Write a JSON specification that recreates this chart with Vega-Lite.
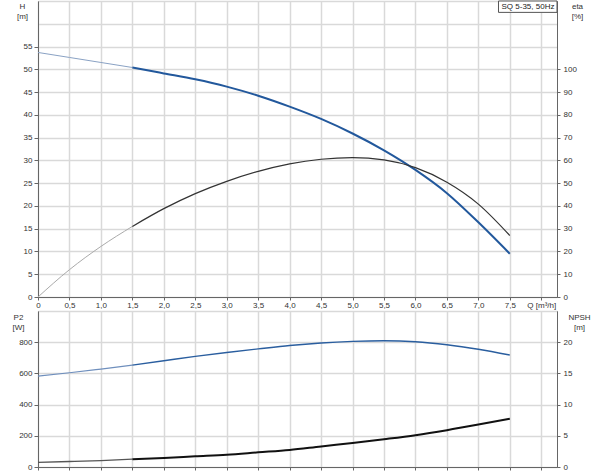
{
  "$schema": "https://vega.github.io/schema/vega-lite/v6.json",
  "padding": {"left": 11, "top": 0, "right": 0, "bottom": 0},
  "bounds": "flush",
  "spacing": 14,
  "config": {
    "font": "Liberation Sans",
    "view": {"stroke": "#777", "strokeWidth": 1},
    "axis": {
      "labelFont": "Liberation Sans", "labelFontSize": 8, "labelColor": "#333",
      "titleFont": "Liberation Sans", "titleFontSize": 8, "titleFontWeight": "normal", "titleColor": "#333",
      "domainColor": "#666", "tickColor": "#666", "tickSize": 4, "labelPadding": 2,
      "gridColor": "#d9d9d9", "gridWidth": 1.5
    }
  },
  "datasets": {
    "top": [
      {"curve": "H", "part": "low", "Q": 0, "v": 53.7},
      {"curve": "H", "part": "low", "Q": 0.5, "v": 52.6},
      {"curve": "H", "part": "low", "Q": 1.0, "v": 51.5},
      {"curve": "H", "part": "low", "Q": 1.5, "v": 50.4},
      {"curve": "H", "part": "main", "Q": 1.5, "v": 50.4},
      {"curve": "H", "part": "main", "Q": 2.0, "v": 49.1},
      {"curve": "H", "part": "main", "Q": 2.5, "v": 47.8},
      {"curve": "H", "part": "main", "Q": 3.0, "v": 46.2},
      {"curve": "H", "part": "main", "Q": 3.5, "v": 44.2},
      {"curve": "H", "part": "main", "Q": 4.0, "v": 41.8},
      {"curve": "H", "part": "main", "Q": 4.5, "v": 39.1},
      {"curve": "H", "part": "main", "Q": 5.0, "v": 35.9},
      {"curve": "H", "part": "main", "Q": 5.5, "v": 32.2},
      {"curve": "H", "part": "main", "Q": 6.0, "v": 27.9},
      {"curve": "H", "part": "main", "Q": 6.5, "v": 22.8},
      {"curve": "H", "part": "main", "Q": 7.0, "v": 16.4},
      {"curve": "H", "part": "main", "Q": 7.5, "v": 9.5},
      {"curve": "eta", "part": "low", "Q": 0, "v": 0},
      {"curve": "eta", "part": "low", "Q": 0.5, "v": 12.0},
      {"curve": "eta", "part": "low", "Q": 1.0, "v": 22.2},
      {"curve": "eta", "part": "low", "Q": 1.5, "v": 31.0},
      {"curve": "eta", "part": "main", "Q": 1.5, "v": 31.0},
      {"curve": "eta", "part": "main", "Q": 2.0, "v": 38.8},
      {"curve": "eta", "part": "main", "Q": 2.5, "v": 45.4},
      {"curve": "eta", "part": "main", "Q": 3.0, "v": 50.8},
      {"curve": "eta", "part": "main", "Q": 3.5, "v": 55.2},
      {"curve": "eta", "part": "main", "Q": 4.0, "v": 58.5},
      {"curve": "eta", "part": "main", "Q": 4.5, "v": 60.5},
      {"curve": "eta", "part": "main", "Q": 5.0, "v": 61.2},
      {"curve": "eta", "part": "main", "Q": 5.5, "v": 60.2},
      {"curve": "eta", "part": "main", "Q": 6.0, "v": 56.8},
      {"curve": "eta", "part": "main", "Q": 6.5, "v": 50.4},
      {"curve": "eta", "part": "main", "Q": 7.0, "v": 40.8},
      {"curve": "eta", "part": "main", "Q": 7.5, "v": 27.0}
    ],
    "bottom": [
      {"curve": "P2", "part": "low", "Q": 0, "v": 583},
      {"curve": "P2", "part": "low", "Q": 0.5, "v": 604},
      {"curve": "P2", "part": "low", "Q": 1.0, "v": 628},
      {"curve": "P2", "part": "low", "Q": 1.5, "v": 653},
      {"curve": "P2", "part": "main", "Q": 1.5, "v": 653},
      {"curve": "P2", "part": "main", "Q": 2.0, "v": 681},
      {"curve": "P2", "part": "main", "Q": 2.5, "v": 709},
      {"curve": "P2", "part": "main", "Q": 3.0, "v": 734},
      {"curve": "P2", "part": "main", "Q": 3.5, "v": 757},
      {"curve": "P2", "part": "main", "Q": 4.0, "v": 779},
      {"curve": "P2", "part": "main", "Q": 4.5, "v": 795},
      {"curve": "P2", "part": "main", "Q": 5.0, "v": 805},
      {"curve": "P2", "part": "main", "Q": 5.5, "v": 809},
      {"curve": "P2", "part": "main", "Q": 6.0, "v": 803},
      {"curve": "P2", "part": "main", "Q": 6.5, "v": 784},
      {"curve": "P2", "part": "main", "Q": 7.0, "v": 755},
      {"curve": "P2", "part": "main", "Q": 7.5, "v": 718},
      {"curve": "NPSH", "part": "low", "Q": 0, "v": 0.75},
      {"curve": "NPSH", "part": "low", "Q": 0.5, "v": 0.88},
      {"curve": "NPSH", "part": "low", "Q": 1.0, "v": 1.02},
      {"curve": "NPSH", "part": "low", "Q": 1.5, "v": 1.25},
      {"curve": "NPSH", "part": "main", "Q": 1.5, "v": 1.25},
      {"curve": "NPSH", "part": "main", "Q": 2.0, "v": 1.45},
      {"curve": "NPSH", "part": "main", "Q": 2.5, "v": 1.72},
      {"curve": "NPSH", "part": "main", "Q": 3.0, "v": 1.98},
      {"curve": "NPSH", "part": "main", "Q": 3.5, "v": 2.35},
      {"curve": "NPSH", "part": "main", "Q": 4.0, "v": 2.72},
      {"curve": "NPSH", "part": "main", "Q": 4.5, "v": 3.3},
      {"curve": "NPSH", "part": "main", "Q": 5.0, "v": 3.85},
      {"curve": "NPSH", "part": "main", "Q": 5.5, "v": 4.45},
      {"curve": "NPSH", "part": "main", "Q": 6.0, "v": 5.1},
      {"curve": "NPSH", "part": "main", "Q": 6.5, "v": 5.9},
      {"curve": "NPSH", "part": "main", "Q": 7.0, "v": 6.8},
      {"curve": "NPSH", "part": "main", "Q": 7.5, "v": 7.75}
    ],
    "label": [{"label": "SQ 5-35, 50Hz"}]
  },
  "vconcat": [
    {
      "width": 519,
      "height": 296,
      "layer": [
        {
          "encoding": {
            "x": {
              "field": "Q", "type": "quantitative",
              "scale": {"domain": [0, 8.25], "nice": false, "zero": false},
              "axis": {
                "title": null, "grid": true,
                "values": [0, 0.5, 1, 1.5, 2, 2.5, 3, 3.5, 4, 4.5, 5, 5.5, 6, 6.5, 7, 7.5, 8],
                "labelExpr": "datum.value == 0 ? '0' : (datum.value == 8 ? 'Q [m³/h]' : replace(format(datum.value, '.1f'), '.', ','))",
                "tickSize": 3, "labelPadding": 1, "labelFlush": false, "labelOverlap": false
              }
            },
            "y": {
              "field": "v", "type": "quantitative",
              "scale": {"domain": [0, 65], "nice": false},
              "axis": {
                "values": [0, 5, 10, 15, 20, 25, 30, 35, 40, 45, 50, 55, 60, 65],
                "grid": true,
                "labelExpr": "datum.value > 55 ? '' : datum.label",
                "tickOpacity": {"condition": {"test": "datum.value > 55", "value": 0}, "value": 1},
                "title": ["H", "[m]"], "titleAngle": 0, "titleX": -16, "titleY": 1,
                "titleBaseline": "top", "titleAlign": "center", "titleLineHeight": 10
              }
            }
          },
          "layer": [
            {
              "data": {"name": "top"},
              "transform": [{"filter": "datum.curve == 'H' && datum.part == 'low'"}],
              "mark": {"type": "line", "color": "#8aa2c4", "strokeWidth": 1, "interpolate": "monotone"}
            },
            {
              "data": {"name": "top"},
              "transform": [{"filter": "datum.curve == 'H' && datum.part == 'main'"}],
              "mark": {"type": "line", "color": "#22589c", "strokeWidth": 2, "interpolate": "monotone"}
            }
          ]
        },
        {
          "encoding": {
            "x": {
              "field": "Q", "type": "quantitative",
              "scale": {"domain": [0, 8.25], "nice": false, "zero": false},
              "axis": {
                "title": null, "grid": true,
                "values": [0, 0.5, 1, 1.5, 2, 2.5, 3, 3.5, 4, 4.5, 5, 5.5, 6, 6.5, 7, 7.5, 8],
                "labelExpr": "datum.value == 0 ? '0' : (datum.value == 8 ? 'Q [m³/h]' : replace(format(datum.value, '.1f'), '.', ','))",
                "tickSize": 3, "labelPadding": 1, "labelFlush": false, "labelOverlap": false
              }
            },
            "y": {
              "field": "v", "type": "quantitative",
              "scale": {"domain": [0, 130], "nice": false},
              "axis": {
                "orient": "right",
                "values": [0, 10, 20, 30, 40, 50, 60, 70, 80, 90, 100],
                "grid": false, "tickSize": 3, "labelPadding": 3,
                "title": ["eta", "[%]"], "titleAngle": 0, "titleX": 20, "titleY": 1,
                "titleBaseline": "top", "titleAlign": "center", "titleLineHeight": 10
              }
            }
          },
          "layer": [
            {
              "data": {"name": "top"},
              "transform": [{"filter": "datum.curve == 'eta' && datum.part == 'low'"}],
              "mark": {"type": "line", "color": "#aaaaaa", "strokeWidth": 1, "interpolate": "monotone"}
            },
            {
              "data": {"name": "top"},
              "transform": [{"filter": "datum.curve == 'eta' && datum.part == 'main'"}],
              "mark": {"type": "line", "color": "#333333", "strokeWidth": 1.2, "interpolate": "monotone"}
            }
          ]
        },
        {
          "data": {"name": "label"},
          "encoding": {
            "x": {
              "datum": 7.32, "type": "quantitative",
              "scale": {"domain": [0, 8.25], "nice": false, "zero": false},
              "axis": {
                "title": null, "grid": true,
                "values": [0, 0.5, 1, 1.5, 2, 2.5, 3, 3.5, 4, 4.5, 5, 5.5, 6, 6.5, 7, 7.5, 8],
                "labelExpr": "datum.value == 0 ? '0' : (datum.value == 8 ? 'Q [m³/h]' : replace(format(datum.value, '.1f'), '.', ','))",
                "tickSize": 3, "labelPadding": 1, "labelFlush": false, "labelOverlap": false
              }
            },
            "y": {"datum": 65, "type": "quantitative", "scale": {"domain": [0, 65], "nice": false}, "axis": null}
          },
          "layer": [
            {
              "mark": {"type": "rect", "fill": "white", "stroke": "#555", "strokeWidth": 1},
              "encoding": {
                "x2": {"datum": 8.25},
                "y2": {"datum": 62.5}
              }
            },
            {
              "mark": {"type": "text", "fontSize": 8, "color": "#222", "font": "Liberation Sans", "align": "left", "baseline": "middle", "dx": 3, "dy": 6},
              "encoding": {
                "text": {"field": "label", "type": "nominal"}
              }
            }
          ]
        }
      ],
      "resolve": {"scale": {"y": "independent"}}
    },
    {
      "width": 519,
      "height": 156,
      "encoding": {
        "x": {
          "field": "Q", "type": "quantitative",
          "scale": {"domain": [0, 8.25], "nice": false, "zero": false},
          "axis": {
            "title": null, "grid": true, "labels": false,
            "values": [0, 0.5, 1, 1.5, 2, 2.5, 3, 3.5, 4, 4.5, 5, 5.5, 6, 6.5, 7, 7.5, 8],
            "tickSize": 3
          }
        }
      },
      "layer": [
        {
          "encoding": {
            "y": {
              "field": "v", "type": "quantitative",
              "scale": {"domain": [0, 1000], "nice": false},
              "axis": {
                "values": [0, 200, 400, 600, 800, 1000],
                "grid": true,
                "labelExpr": "datum.value > 800 ? '' : datum.label",
                "tickOpacity": {"condition": {"test": "datum.value > 800", "value": 0}, "value": 1},
                "title": ["P2", "[W]"], "titleAngle": 0, "titleX": -20, "titleY": 2,
                "titleBaseline": "top", "titleAlign": "center", "titleLineHeight": 10
              }
            }
          },
          "layer": [
            {
              "data": {"name": "bottom"},
              "transform": [{"filter": "datum.curve == 'P2' && datum.part == 'low'"}],
              "mark": {"type": "line", "color": "#6f8fbd", "strokeWidth": 1.2, "interpolate": "monotone"}
            },
            {
              "data": {"name": "bottom"},
              "transform": [{"filter": "datum.curve == 'P2' && datum.part == 'main'"}],
              "mark": {"type": "line", "color": "#2a5e9f", "strokeWidth": 1.4, "interpolate": "monotone"}
            }
          ]
        },
        {
          "encoding": {
            "y": {
              "field": "v", "type": "quantitative",
              "scale": {"domain": [0, 25], "nice": false},
              "axis": {
                "orient": "right",
                "values": [0, 5, 10, 15, 20],
                "grid": false, "tickSize": 3, "labelPadding": 3,
                "title": ["NPSH", "[m]"], "titleAngle": 0, "titleX": 22, "titleY": 2,
                "titleBaseline": "top", "titleAlign": "center", "titleLineHeight": 10
              }
            }
          },
          "layer": [
            {
              "data": {"name": "bottom"},
              "transform": [{"filter": "datum.curve == 'NPSH' && datum.part == 'low'"}],
              "mark": {"type": "line", "color": "#555555", "strokeWidth": 1.3, "interpolate": "monotone"}
            },
            {
              "data": {"name": "bottom"},
              "transform": [{"filter": "datum.curve == 'NPSH' && datum.part == 'main'"}],
              "mark": {"type": "line", "color": "#111111", "strokeWidth": 2, "interpolate": "monotone"}
            }
          ]
        }
      ],
      "resolve": {"scale": {"y": "independent"}}
    }
  ]
}
